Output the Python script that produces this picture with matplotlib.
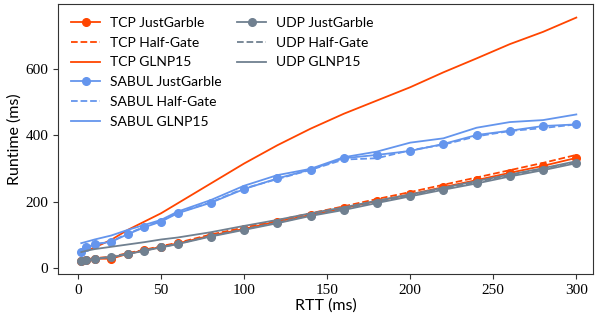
import matplotlib.pyplot as plt
from matplotlib.lines import Line2D

plt.rcParams['font.family'] = ['Lato', 'DejaVu Sans']

# RTT values (ms)
rtt = [2, 5, 10, 20, 30, 40, 50, 60, 80, 100, 120, 140, 160, 180, 200, 220, 240, 260, 280, 300]

# runtime (ms)
tcp_jg = [22, 25, 28, 28, 43, 53, 64, 74, 98, 118, 140, 160, 180, 202, 222, 244, 265, 287, 308, 332]
tcp_hg = [23, 26, 30, 34, 45, 55, 66, 76, 101, 122, 144, 165, 186, 208, 229, 251, 273, 295, 317, 341]
tcp_gl = [45, 52, 62, 85, 115, 140, 165, 195, 255, 315, 370, 420, 465, 505, 545, 590, 632, 675, 712, 755]

sabul_jg = [48, 62, 72, 79, 102, 123, 140, 165, 197, 238, 270, 297, 331, 341, 353, 374, 401, 414, 428, 433]
sabul_hg = [45, 60, 71, 80, 104, 124, 142, 167, 198, 240, 268, 296, 327, 331, 355, 372, 397, 413, 422, 433]
sabul_gl = [75, 79, 86, 98, 115, 130, 145, 170, 205, 248, 280, 299, 334, 351, 378, 391, 423, 440, 446, 463]

udp_jg = [20, 23, 27, 33, 42, 52, 62, 72, 95, 115, 135, 157, 175, 196, 216, 236, 255, 276, 295, 316]
udp_hg = [21, 24, 28, 34, 43, 53, 63, 73, 97, 117, 137, 159, 178, 199, 219, 239, 259, 280, 299, 320]
udp_gl = [48, 52, 57, 64, 71, 78, 86, 92, 108, 127, 145, 165, 183, 203, 222, 242, 262, 282, 301, 322]

c_tcp = '#ff4500'
c_sabul = '#6495ed'
c_udp = '#708090'

fig = plt.figure(figsize=(5.95, 3.23), dpi=100)
ax = fig.add_axes([0.0975, 0.1517, 0.899, 0.837])

lw = 1.3
ms = 5.5

h = []
h += ax.plot(rtt, tcp_jg, color=c_tcp, lw=lw, marker='o', ms=ms, label='TCP JustGarble')
h += ax.plot(rtt, tcp_hg, color=c_tcp, lw=lw, ls='--', label='TCP Half-Gate')
h += ax.plot(rtt, tcp_gl, color=c_tcp, lw=lw, label='TCP GLNP15')
h += ax.plot(rtt, sabul_jg, color=c_sabul, lw=lw, marker='o', ms=ms, label='SABUL JustGarble')
h += ax.plot(rtt, sabul_hg, color=c_sabul, lw=lw, ls='--', label='SABUL Half-Gate')
h += ax.plot(rtt, sabul_gl, color=c_sabul, lw=lw, label='SABUL GLNP15')
u = []
u += ax.plot(rtt, udp_jg, color=c_udp, lw=lw, marker='o', ms=ms, label='UDP JustGarble')
u += ax.plot(rtt, udp_hg, color=c_udp, lw=lw, ls='--', label='UDP Half-Gate')
u += ax.plot(rtt, udp_gl, color=c_udp, lw=lw, label='UDP GLNP15')

# blank entries so the legend splits 6 / 3
blank = [Line2D([], [], alpha=0) for _ in range(3)]
handles = h + u + blank
labels = [l.get_label() for l in h + u] + [''] * 3
ax.legend(handles, labels, ncol=2, loc='upper left', frameon=False,
          fontsize=10, handlelength=2.1, handletextpad=0.7, columnspacing=1.1,
          labelspacing=0.56, borderaxespad=0.5, borderpad=0.45)

ax.set_xlim(-12, 310)
ax.set_ylim(-18, 797)
ax.set_xticks([0, 50, 100, 150, 200, 250, 300])
ax.set_yticks([0, 200, 400, 600])
ax.set_xlabel('RTT (ms)', fontsize=11.5, labelpad=1)
ax.set_ylabel('Runtime (ms)', fontsize=11.5, labelpad=3)

for lab in ax.get_xticklabels() + ax.get_yticklabels():
    lab.set_family('Liberation Serif')
    lab.set_fontsize(11)

for s in ax.spines.values():
    s.set_color('#333333')
ax.tick_params(colors='#333333', labelcolor='black', length=3.5)

plt.savefig('out.png', dpi=100)
